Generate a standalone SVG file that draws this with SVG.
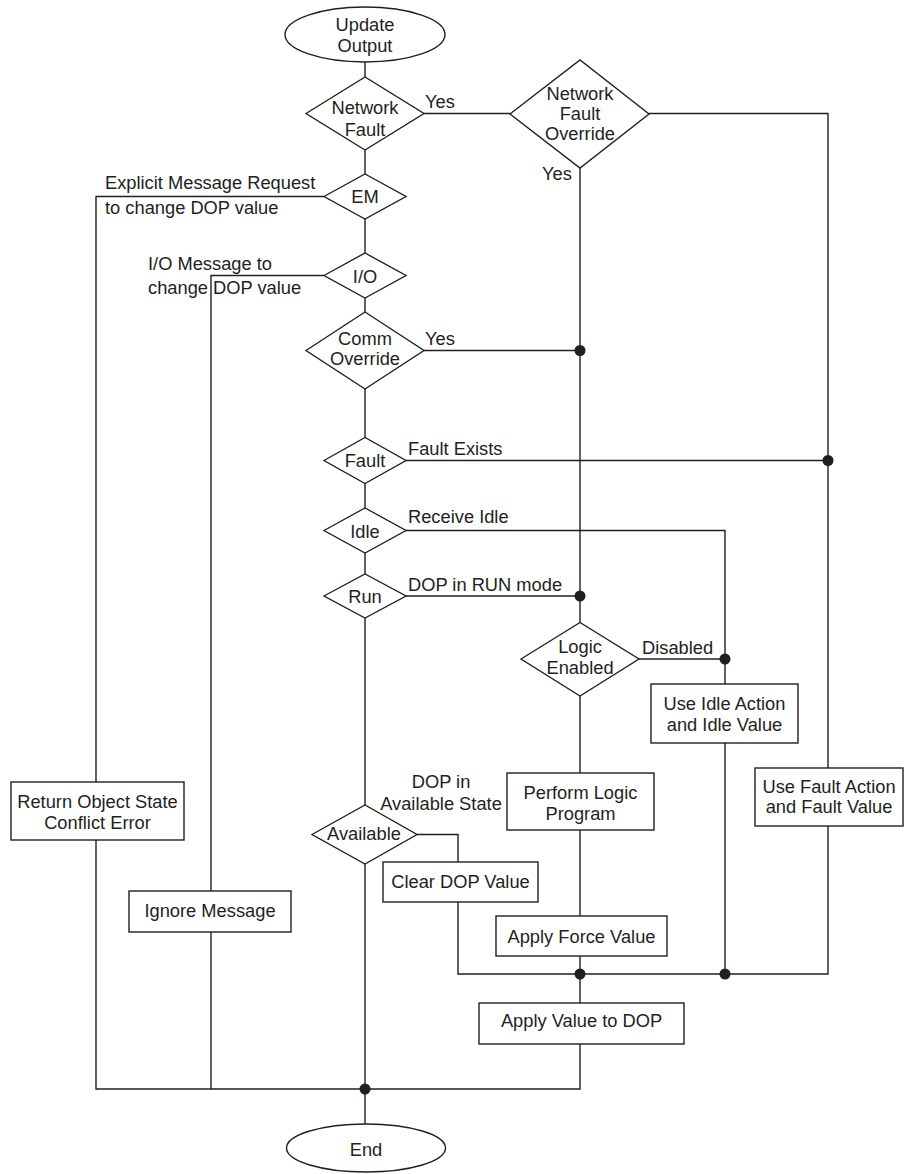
<svg xmlns="http://www.w3.org/2000/svg" width="907" height="1174" viewBox="0 0 907 1174">
<style>
.s{fill:#fff;stroke:#231f20;stroke-width:1.4}
.c{fill:none;stroke:#231f20;stroke-width:1.4}
.d{fill:#231f20}
text{font-family:"Liberation Sans",Arial,sans-serif;font-size:18.3px;fill:#231f20}
.m{text-anchor:middle}
</style>
<rect width="907" height="1174" fill="#fff"/>
<g id="connectors">
<path class="c" d="M365,62V77"/>
<path class="c" d="M424,113.5H510"/>
<path class="c" d="M649,113.5H828V768"/>
<path class="c" d="M580,168V622.5"/>
<path class="c" d="M365,150V174"/>
<path class="c" d="M324,196.5H96V782"/>
<path class="c" d="M96,840V1089H580V1044"/>
<path class="c" d="M365,219V253"/>
<path class="c" d="M324,275.5H211V891"/>
<path class="c" d="M211,932V1089"/>
<path class="c" d="M365,298V312"/>
<path class="c" d="M424,350.5H580"/>
<path class="c" d="M365,389V437.5"/>
<path class="c" d="M406,460.5H828"/>
<path class="c" d="M365,483.5V508"/>
<path class="c" d="M406,530.5H725V684"/>
<path class="c" d="M365,553V574"/>
<path class="c" d="M406,596H580"/>
<path class="c" d="M365,618V805"/>
<path class="c" d="M417,834.5H458V862"/>
<path class="c" d="M365,864V1124"/>
<path class="c" d="M639,659H725"/>
<path class="c" d="M580,696V773"/>
<path class="c" d="M580,830V916"/>
<path class="c" d="M580,956V1003"/>
<path class="c" d="M458,902V974H828V826"/>
<path class="c" d="M725,743V974"/>
<circle class="d" cx="580" cy="350.5" r="5.5"/>
<circle class="d" cx="828" cy="460.5" r="5.5"/>
<circle class="d" cx="580" cy="596" r="5.5"/>
<circle class="d" cx="725" cy="659" r="5.5"/>
<circle class="d" cx="580" cy="974" r="5.5"/>
<circle class="d" cx="725" cy="974" r="5.5"/>
<circle class="d" cx="365" cy="1089" r="5.5"/>
<text x="425" y="108">Yes</text>
<text x="542" y="180">Yes</text>
<text x="105" y="189">Explicit Message Request</text>
<text x="105" y="214">to change DOP value</text>
<text x="148" y="270">I/O Message to</text>
<text x="148" y="294">change DOP value</text>
<text x="425" y="345">Yes</text>
<text x="408" y="455">Fault Exists</text>
<text x="408" y="523">Receive Idle</text>
<text x="408" y="591">DOP in RUN mode</text>
<text x="642" y="654">Disabled</text>
<text class="m" x="441" y="788">DOP in</text>
<text class="m" x="441" y="810">Available State</text>
</g>
<g id="start">
<ellipse class="s" cx="365" cy="34.5" rx="80" ry="27.5"/>
<text class="m" x="365" y="30.5">Update</text>
<text class="m" x="365" y="51.5">Output</text>
</g>
<g id="network-fault">
<polygon class="s" points="306,113.5 365,77 424,113.5 365,150"/>
<text class="m" x="365" y="114">Network</text>
<text class="m" x="365" y="136">Fault</text>
</g>
<g id="network-fault-override">
<polygon class="s" points="510,114 580,60 649,114 580,168"/>
<text class="m" x="580" y="100">Network</text>
<text class="m" x="580" y="120">Fault</text>
<text class="m" x="580" y="140">Override</text>
</g>
<g id="em">
<polygon class="s" points="324,196.5 365,174 406,196.5 365,219"/>
<text class="m" x="365" y="203">EM</text>
</g>
<g id="io">
<polygon class="s" points="324,275.5 365,253 406,275.5 365,298"/>
<text class="m" x="365" y="283">I/O</text>
</g>
<g id="comm-override">
<polygon class="s" points="306,350.5 365,312 424,350.5 365,389"/>
<text class="m" x="365" y="345">Comm</text>
<text class="m" x="365" y="365">Override</text>
</g>
<g id="fault">
<polygon class="s" points="324,460.5 365,437.5 406,460.5 365,483.5"/>
<text class="m" x="365" y="467">Fault</text>
</g>
<g id="idle">
<polygon class="s" points="324,530.5 365,508 406,530.5 365,553"/>
<text class="m" x="365" y="537.5">Idle</text>
</g>
<g id="run">
<polygon class="s" points="324,596 365,574 406,596 365,618"/>
<text class="m" x="365" y="602.5">Run</text>
</g>
<g id="logic-enabled">
<polygon class="s" points="521,659 580,622.5 639,659 580,696"/>
<text class="m" x="580" y="653">Logic</text>
<text class="m" x="580" y="674">Enabled</text>
</g>
<g id="use-idle">
<rect class="s" x="651" y="684" width="147" height="59"/>
<text class="m" x="724.5" y="710">Use Idle Action</text>
<text class="m" x="724.5" y="730.5">and Idle Value</text>
</g>
<g id="perform-logic">
<rect class="s" x="507" y="773" width="147" height="57"/>
<text class="m" x="580.5" y="799">Perform Logic</text>
<text class="m" x="580.5" y="819.5">Program</text>
</g>
<g id="use-fault">
<rect class="s" x="755" y="768" width="148" height="58"/>
<text class="m" x="829" y="792.5">Use Fault Action</text>
<text class="m" x="829" y="813">and Fault Value</text>
</g>
<g id="return-error">
<rect class="s" x="11" y="782" width="173" height="58"/>
<text class="m" x="97.5" y="808">Return Object State</text>
<text class="m" x="97.5" y="828.5">Conflict Error</text>
</g>
<g id="available">
<polygon class="s" points="312,834.5 365,805 417,834.5 365,864"/>
<text class="m" x="364" y="840">Available</text>
</g>
<g id="clear-dop">
<rect class="s" x="383" y="862" width="155" height="40"/>
<text class="m" x="460.5" y="888">Clear DOP Value</text>
</g>
<g id="ignore-message">
<rect class="s" x="129" y="891" width="162" height="41"/>
<text class="m" x="210" y="917">Ignore Message</text>
</g>
<g id="apply-force">
<rect class="s" x="496" y="916" width="171" height="40"/>
<text class="m" x="581.5" y="943">Apply Force Value</text>
</g>
<g id="apply-value">
<rect class="s" x="479" y="1003" width="205" height="41"/>
<text class="m" x="581.5" y="1027">Apply Value to DOP</text>
</g>
<g id="end">
<ellipse class="s" cx="366" cy="1148" rx="79.5" ry="24"/>
<text class="m" x="366" y="1156">End</text>
</g>
</svg>
